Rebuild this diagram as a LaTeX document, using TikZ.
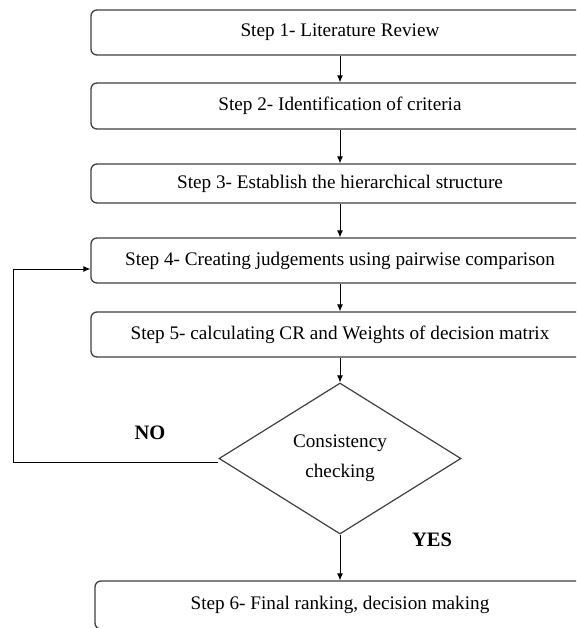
\documentclass[tikz,border=0pt]{standalone}
\usepackage{fontspec}
\setmainfont{Liberation Serif}
\usetikzlibrary{shapes.geometric,arrows.meta}
\begin{document}
\begin{tikzpicture}[x=1pt,y=-1pt,
  stepbox/.style={draw=black!75, line width=1.3pt, rounded corners=6pt, minimum width=498pt, inner sep=0pt, font=\fontsize{19.2}{22}\selectfont},
  decbox/.style={draw=black!75, line width=1.2pt, shape=diamond, shape aspect=1.6, minimum width=242pt, minimum height=151pt, inner sep=0pt, align=center, font=\fontsize{19.2}{30}\selectfont},
  arr/.style={draw=black, line width=0.9pt, -{Latex[length=7pt,width=6pt]}},
  lbl/.style={font=\fontsize{20.5}{24}\selectfont\bfseries}
]
\useasboundingbox (0,0) rectangle (576,628);
\clip (0,0) rectangle (576,628);
\fill[white] (0,0) rectangle (576,628);
\node[stepbox, minimum height=45pt] (b1) at (340,32.5) {Step 1- Literature Review};
\node[stepbox, minimum height=46pt] (b2) at (340,106) {Step 2- Identification of criteria};
\node[stepbox, minimum height=39pt] (b3) at (340,183.5) {Step 3- Establish the hierarchical structure};
\node[stepbox, minimum height=45pt] (b4) at (340,260.5) {Step 4- Creating judgements using pairwise comparison};
\node[stepbox, minimum height=45pt] (b5) at (340,334.5) {Step 5- calculating CR and Weights of decision matrix};
\node[decbox] (d) at (340,458.5) {Consistency\\checking};
\node[stepbox, minimum width=490pt, minimum height=48pt] (b6) at (340,605) {Step 6- Final ranking, decision making};
\node[lbl] (no) at (150,433) {NO};
\node[lbl] (yes) at (432,540) {YES};
\draw[arr] (b1.south) -- (b2.north);
\draw[arr] (b2.south) -- (b3.north);
\draw[arr] (b3.south) -- (b4.north);
\draw[arr] (b4.south) -- (b5.north);
\draw[arr] (b5.south) -- (d.north);
\draw[arr] (d.south) -- (b6.north);
\draw[arr] ([yshift=-3.5pt]d.west) -- ++(-205.4,0) |- ([yshift=-8.5pt]b4.west);
\end{tikzpicture}
\end{document}
